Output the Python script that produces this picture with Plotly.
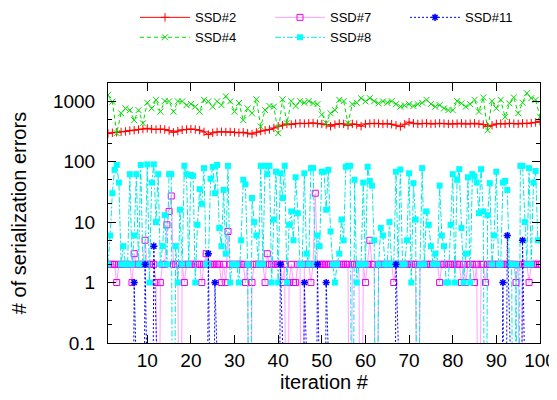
import plotly.graph_objects as go

# iterations for SSD#2 / SSD#4 (one sample per iteration)
iterations = list(range(1, 101))

ssd2 = [293, 300, 305, 310, 315, 325, 330, 340, 345, 355,
        345, 340, 345, 340, 325, 305, 320, 335, 340, 345,
        340, 330, 310, 280, 300, 310, 312, 308, 310, 305,
        300, 305, 295, 285, 305, 320, 330, 340, 360, 385,
        400, 420, 410, 425, 430, 425, 430, 435, 425, 420,
        410, 385, 410, 425, 420, 395, 420, 410, 385, 420,
        425, 430, 425, 420, 425, 415, 400, 380, 415, 450,
        430, 420, 425, 430, 420, 425, 430, 425, 420, 420,
        425, 430, 420, 425, 430, 420, 410, 380, 400, 420,
        425, 420, 430, 425, 420, 430, 425, 435, 445, 465]

ssd4 = [1260, 980, 295, 630, 760, 710, 485, 710, 430, 940,
        760, 1050, 670, 1000, 990, 670, 990, 990, 860, 900,
        810, 670, 1050, 990, 810, 990, 860, 1200, 990, 670,
        930, 485, 760, 630, 1070, 380, 710, 830, 810, 295,
        1070, 430, 1000, 830, 1000, 940, 1000, 920, 890, 600,
        430, 630, 710, 1050, 1000, 430, 890, 940, 1120, 990,
        1120, 1000, 920, 990, 940, 1000, 890, 810, 850, 890,
        830, 890, 940, 1050, 900, 810, 860, 760, 710, 710,
        1000, 920, 810, 890, 1050, 670, 1150, 330, 1000, 760,
        1050, 550, 920, 1150, 630, 940, 1350, 1120, 1050, 550]

# SSD#7 / #8 / #11 are sampled twice per iteration (x = 1, 1.5, ..., 100)
ssd7 = [2, 2, 2, 2, 1, 2, 2, 2, 2, 2,
        2, 1, 3, 2, 2, 2, 2, 5, 2, 2,
        2, 2, 1, 0, 1, 2, 2, 9, 15, 27,
        2, 2, 2, 0, 2, 1, 2, 2, 2, 2,
        2, 2, 2, 1, 2, 3, 2, 2, 2, 2,
        2, 2, 1, 2, 1, 7, 2, 2, 2, 2,
        2, 2, 2, 1, 2, 0, 1, 2, 2, 2,
        2, 2, 1, 3, 2, 2, 2, 2, 2, 2,
        1, 2, 0, 1, 2, 1, 1, 2, 2, 0,
        2, 2, 2, 1, 2, 30, 2, 2, 2, 2,
        2, 2, 2, 2, 2, 2, 2, 2, 2, 2,
        2, 0, 2, 2, 2, 2, 0, 2, 1, 2,
        5, 2, 2, 0, 2, 2, 2, 2, 2, 2,
        2, 1, 2, 2, 2, 2, 2, 2, 2, 2,
        2, 2, 0, 2, 2, 2, 2, 2, 2, 2,
        2, 2, 1, 2, 2, 2, 2, 2, 2, 2,
        2, 2, 1, 2, 1, 2, 2, 2, 1, 2,
        0, 2, 2, 1, 2, 2, 2, 2, 2, 2,
        2, 2, 2, 2, 2, 2, 2, 1, 2, 0,
        2, 2, 2, 1, 2, 2, 2, 2, 2]

ssd8 = [2, 6, 30, 73, 88, 45, 2, 4, 2, 2,
        62, 2, 6, 62, 2, 88, 2, 2, 90, 1,
        45, 90, 10, 62, 2, 4, 13, 2, 62, 62,
        0, 4, 1, 16, 2, 85, 62, 2, 60, 58,
        1, 9, 35, 20, 78, 2, 2, 52, 82, 30,
        88, 8, 4, 34, 3, 85, 1, 2, 2, 2,
        1, 5, 50, 42, 2, 0, 25, 10, 6, 2,
        85, 2, 85, 62, 85, 1, 11, 68, 1, 64,
        25, 85, 1, 9, 15, 5, 55, 14, 2, 2,
        64, 3, 2, 78, 78, 2, 6, 4, 68, 68,
        16, 73, 7, 2, 1, 2, 3, 11, 5, 82,
        85, 85, 0, 50, 1, 2, 2, 45, 2, 82,
        48, 40, 5, 0, 2, 8, 6, 2, 2, 10,
        2, 2, 68, 2, 74, 2, 2, 5, 64, 1,
        44, 11, 0, 2, 78, 2, 15, 9, 4, 2,
        3, 2, 40, 6, 4, 1, 1, 9, 62, 1,
        50, 75, 8, 1, 3, 55, 1, 62, 57, 45,
        14, 75, 15, 0, 13, 44, 2, 6, 68, 2,
        2, 45, 48, 34, 2, 2, 0, 2, 0, 85,
        85, 10, 2, 78, 2, 45, 70, 5, 5]

ssd11 = [0, 0, 0, 0, 0, 0, 0, 0, 0, 0,
         0, 0, 1, 0, 0, 0, 0, 2, 0, 0,
         0, 4, 0, 0, 0, 0, 0, 0, 0, 0,
         0, 0, 0, 0, 0, 0, 0, 0, 0, 0,
         0, 0, 0, 0, 0, 0, 3, 0, 0, 1,
         0, 0, 0, 0, 0, 0, 0, 0, 0, 0,
         0, 0, 0, 0, 0, 0, 0, 0, 0, 0,
         0, 0, 0, 0, 0, 0, 0, 0, 0, 2,
         0, 0, 0, 0, 0, 0, 0, 0, 0, 0,
         1, 0, 0, 0, 0, 0, 2, 0, 0, 0,
         1, 0, 0, 0, 0, 0, 0, 0, 0, 0,
         0, 0, 0, 0, 0, 0, 0, 0, 0, 0,
         0, 0, 0, 0, 0, 0, 0, 0, 0, 0,
         0, 0, 2, 0, 0, 0, 0, 0, 0, 0,
         0, 0, 0, 0, 0, 0, 0, 0, 0, 0,
         0, 0, 0, 0, 0, 0, 0, 0, 0, 0,
         0, 0, 0, 0, 0, 0, 0, 0, 0, 0,
         0, 0, 0, 0, 0, 0, 0, 0, 0, 0,
         0, 1, 0, 6, 0, 0, 0, 0, 0, 0,
         5, 0, 0, 0, 0, 0, 0, 0, 0]

half_iterations = [1 + k / 2 for k in range(len(ssd8))]

y_tick_vals = [0.1, 1, 10, 100, 1000]
y_tick_text = ["0.1", "1", "10", "100", "1000"]
x_tick_vals = [10, 20, 30, 40, 50, 60, 70, 80, 90, 100]

# zero counts cannot sit on a log axis: draw them far below the visible range
FLOOR = 1e-6
def on_log(vals):
    return [v if v > 0 else FLOOR for v in vals]

FONT = "Liberation Sans, Arial, Helvetica, sans-serif"

fig = go.Figure()

fig.add_trace(go.Scatter(
    x=iterations, y=on_log(ssd2), name="SSD#2", mode="lines+markers",
    line=dict(color="#ff0000", width=1),
    marker=dict(symbol="cross-thin-open", size=6, line=dict(color="#ff0000", width=1)),
    legendrank=1))
fig.add_trace(go.Scatter(
    x=iterations, y=on_log(ssd4), name="SSD#4", mode="lines+markers",
    line=dict(color="#00dd00", width=1, dash="4px,3px"),
    marker=dict(symbol="x-thin-open", size=6, line=dict(color="#00dd00", width=1)),
    legendrank=4))
fig.add_trace(go.Scatter(
    x=half_iterations, y=on_log(ssd7), name="SSD#7", mode="lines+markers",
    line=dict(color="#ffa0ff", width=1),
    marker=dict(symbol="square-open", size=6, color="#ee00ee", line=dict(color="#ee00ee", width=1)),
    legendrank=2))
fig.add_trace(go.Scatter(
    x=half_iterations, y=on_log(ssd8), name="SSD#8", mode="lines+markers",
    line=dict(color="#00e8e8", width=1, dash="6px,2px,2px,2px"),
    marker=dict(symbol="square", size=6, color="#00ffff", line=dict(width=0)),
    legendrank=5))
fig.add_trace(go.Scatter(
    x=half_iterations, y=on_log(ssd11), name="SSD#11", mode="lines+markers",
    line=dict(color="#0000ff", width=1, dash="2px,2px"),
    marker=dict(symbol="asterisk-open", size=6, line=dict(color="#0000ff", width=1.5)),
    legendrank=3))

axis_common = dict(
    showline=True, linecolor="black", linewidth=1, mirror="ticks",
    ticks="inside", ticklen=8, tickcolor="black", tickwidth=1,
    showgrid=False, zeroline=False, automargin=False,
    tickfont=dict(family=FONT, size=19, color="black"),
)

fig.update_xaxes(
    range=[1, 100], tickvals=x_tick_vals,
    title=dict(text="iteration #", font=dict(family=FONT, size=20, color="black"), standoff=0),
    **axis_common)
fig.update_yaxes(
    type="log", range=[-1, 3.3], tickvals=y_tick_vals, ticktext=y_tick_text,
    minor=dict(ticks="inside", ticklen=4, tickcolor="black", dtick="D2", showgrid=False),
    ticklabelstandoff=8,
    title=dict(text="# of serialization errors", font=dict(family=FONT, size=20, color="black"), standoff=24),
    **axis_common)

# the page body adds an 8px margin, so the figure is sized to fit the 557x400 window
fig.update_layout(
    width=549, height=392,
    margin=dict(l=100, r=17, t=75, b=57, autoexpand=False),
    paper_bgcolor="white", plot_bgcolor="white",
    showlegend=True,
    legend=dict(
        orientation="h", x=0.0625, xanchor="left", y=1.31, yanchor="top",
        entrywidth=70, entrywidthmode="pixels", itemwidth=50,
        font=dict(family=FONT, size=13, color="black"),
        bgcolor="rgba(0,0,0,0)", traceorder="normal",
    ),
    font=dict(family=FONT, color="black"),
)

fig.write_html("out.html")
